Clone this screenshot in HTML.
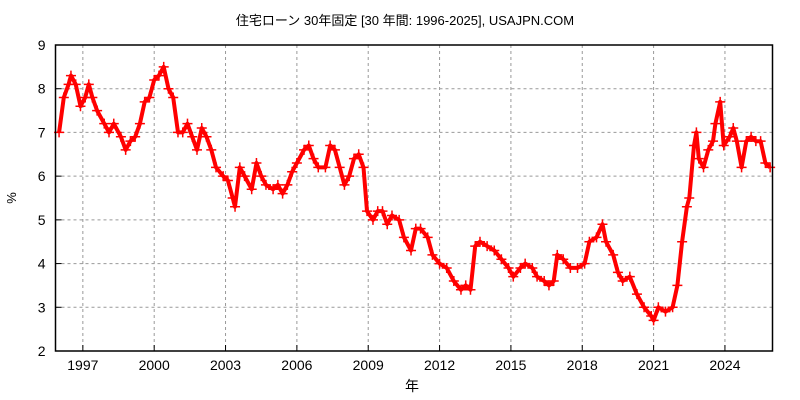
<!DOCTYPE html>
<html><head><meta charset="utf-8"><style>
body{margin:0;background:#fff;}
svg{display:block;font-family:"Liberation Sans","Noto Sans CJK JP",sans-serif;}
</style></head><body>
<svg id="chart" width="800" height="400">
<text x="405" y="25" text-anchor="middle" font-size="13" fill="#000">住宅ローン 30年固定 [30 年間: 1996-2025], USAJPN.COM</text>
<text x="16" y="198" text-anchor="middle" font-size="13" transform="rotate(-90 16 198)">%</text>
<text x="412" y="391" text-anchor="middle" font-size="14">年</text>
<g id="grid"></g><g id="ticks"></g><g id="series"></g>
<rect x="55.5" y="45" width="717" height="306" fill="none" stroke="#000" stroke-width="1.5"/>
</svg>
<script>
const yTicks=[2,3,4,5,6,7,8,9];
const xTicks=[1997,2000,2003,2006,2009,2012,2015,2018,2021,2024];
const years=[1996.0,1996.2,1996.4,1996.5,1996.7,1996.9,1997.1,1997.25,1997.4,1997.6,1997.9,1998.1,1998.3,1998.6,1998.8,1999.0,1999.2,1999.4,1999.6,1999.8,2000.0,2000.2,2000.4,2000.6,2000.8,2001.0,2001.2,2001.4,2001.6,2001.8,2002.0,2002.2,2002.4,2002.6,2002.9,2003.1,2003.3,2003.4,2003.6,2003.8,2004.1,2004.3,2004.5,2004.7,2005.0,2005.2,2005.4,2005.6,2005.8,2006.0,2006.3,2006.5,2006.7,2006.9,2007.2,2007.4,2007.6,2007.8,2008.0,2008.2,2008.4,2008.6,2008.8,2008.95,2009.2,2009.4,2009.6,2009.8,2010.0,2010.3,2010.5,2010.8,2011.0,2011.2,2011.5,2011.7,2012.0,2012.3,2012.6,2012.9,2013.1,2013.3,2013.5,2013.7,2014.0,2014.3,2014.6,2014.9,2015.1,2015.4,2015.6,2015.9,2016.1,2016.4,2016.6,2016.8,2016.95,2017.2,2017.5,2017.8,2018.1,2018.3,2018.6,2018.85,2019.0,2019.3,2019.5,2019.7,2020.0,2020.3,2020.6,2020.9,2021.0,2021.2,2021.5,2021.8,2022.0,2022.2,2022.4,2022.5,2022.7,2022.8,2022.9,2023.1,2023.3,2023.5,2023.6,2023.8,2023.95,2024.2,2024.35,2024.5,2024.7,2024.9,2025.1,2025.3,2025.5,2025.7,2025.9];
const rates=[7.0,7.8,8.1,8.3,8.1,7.6,7.8,8.1,7.8,7.5,7.2,7.0,7.2,6.9,6.6,6.8,6.9,7.2,7.7,7.8,8.2,8.3,8.5,8.0,7.8,7.0,7.0,7.2,6.9,6.6,7.1,6.9,6.6,6.2,6.0,5.9,5.5,5.3,6.2,6.0,5.7,6.3,6.0,5.8,5.7,5.8,5.6,5.8,6.1,6.3,6.6,6.7,6.4,6.2,6.2,6.7,6.6,6.2,5.8,6.0,6.4,6.5,6.2,5.2,5.0,5.2,5.2,4.9,5.1,5.0,4.6,4.3,4.8,4.8,4.6,4.2,4.0,3.9,3.6,3.4,3.5,3.4,4.4,4.5,4.4,4.3,4.1,3.9,3.7,3.9,4.0,3.9,3.7,3.6,3.5,3.6,4.2,4.1,3.9,3.9,4.0,4.5,4.6,4.9,4.5,4.2,3.8,3.6,3.7,3.3,3.0,2.8,2.7,3.0,2.9,3.0,3.5,4.5,5.3,5.5,6.7,7.0,6.4,6.2,6.6,6.8,7.2,7.7,6.7,6.9,7.1,6.8,6.2,6.8,6.9,6.8,6.8,6.3,6.2];
const X0=55.5,X1=772.5,Y0=351,Y1=45,xmin=1995.85,xmax=2026.0,ymin=2,ymax=9;
const xs=v=>X0+(v-xmin)/(xmax-xmin)*(X1-X0);
const ys=v=>Y0-(v-ymin)/(ymax-ymin)*(Y0-Y1);
const NS='http://www.w3.org/2000/svg';
function mk(p,t,a){const e=document.createElementNS(NS,t);for(const k in a)e.setAttribute(k,a[k]);p.appendChild(e);return e;}
const grid=document.getElementById('grid'),ticks=document.getElementById('ticks'),ser=document.getElementById('series');
yTicks.forEach(v=>{const y=ys(v);
 if(v>ymin&&v<ymax){const g=mk(grid,'line',{x1:X0,x2:X1,y1:y,y2:y,stroke:'#999','stroke-dasharray':'3,3'});
 
 }
 const t=mk(ticks,'line',{x1:X0,x2:X0+6,y1:y,y2:y,stroke:'#000'});
 
 
 const l=mk(ticks,'text',{x:X0-10,y:y+5,'text-anchor':'end','font-size':'14'});l.textContent=v;
 
 
});
xTicks.forEach(v=>{const x=xs(v);
 const g=mk(grid,'line',{x1:x,x2:x,y1:Y1,y2:Y0,stroke:'#999','stroke-dasharray':'3,3'});
 
 
 const t=mk(ticks,'line',{x1:x,x2:x,y1:Y0,y2:Y0-6,stroke:'#000'});
 
 
 const l=mk(ticks,'text',{x:x,y:370,'text-anchor':'middle','font-size':'14'});l.textContent=v;
 
 
});
const pts=years.map((yr,i)=>xs(yr).toFixed(1)+','+ys(rates[i]).toFixed(1)).join(' ');
const line=mk(ser,'polyline',{points:pts,fill:'none',stroke:'#f00','stroke-width':'4','stroke-linejoin':'round'});


years.forEach((yr,i)=>{const x=xs(yr),y=ys(rates[i]);
 const p=mk(ser,'path',{d:`M${x-5},${y}h10M${x},${y-5}v10`,stroke:'#f00','stroke-width':'1.5'});
 
 
});
</script>
</body></html>
